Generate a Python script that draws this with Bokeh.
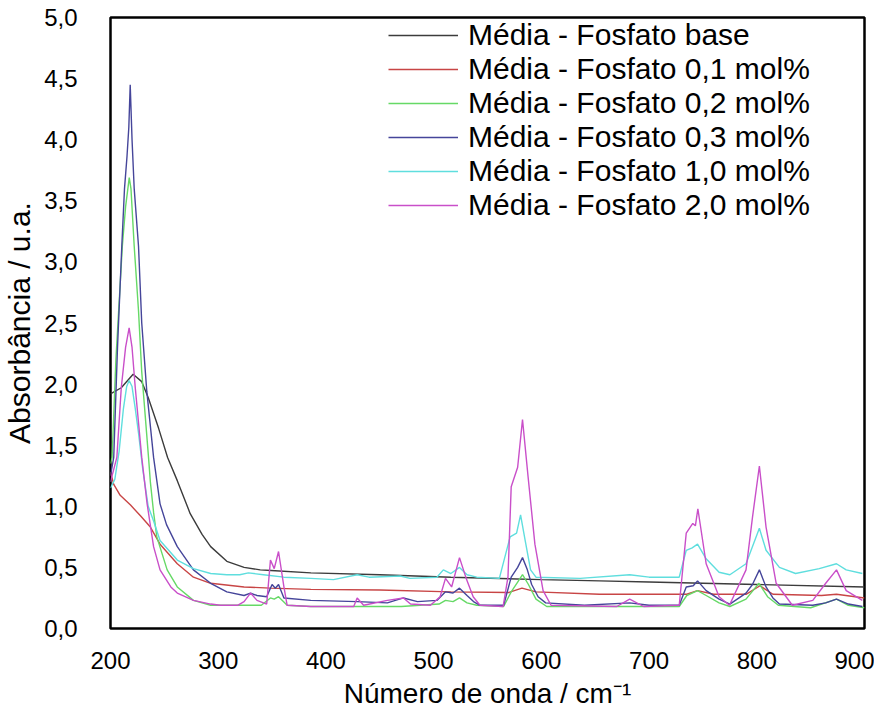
from bokeh.plotting import figure
from bokeh.models import FixedTicker, CustomJSTickFormatter
from bokeh.embed import file_html
from bokeh.resources import INLINE

# ---------------- data ----------------
series_labels = [
    "Média - Fosfato base",
    "Média - Fosfato 0,1 mol%",
    "Média - Fosfato 0,2 mol%",
    "Média - Fosfato 0,3 mol%",
    "Média - Fosfato 1,0 mol%",
    "Média - Fosfato 2,0 mol%",
]

x_base = [200, 210, 221, 229, 235, 244.6, 253, 262, 274, 285, 293, 308, 324, 339, 349, 386, 450, 516, 600, 654, 700, 800, 900]
y_base = [1.92, 1.97, 2.08, 2.02, 1.89, 1.64, 1.40, 1.21, 0.94, 0.77, 0.67, 0.55, 0.50, 0.48, 0.475, 0.455, 0.44, 0.42, 0.40, 0.39, 0.38, 0.36, 0.34]

x_01 = [200, 203, 209, 218.6, 228, 237, 246, 262, 277, 293, 324, 348.5, 386, 450, 516, 570, 582, 595, 654, 735, 745, 760, 790, 803, 815, 860, 874, 900]
y_01 = [1.28, 1.18, 1.09, 1.01, 0.92, 0.83, 0.69, 0.53, 0.42, 0.37, 0.34, 0.33, 0.32, 0.315, 0.30, 0.295, 0.33, 0.30, 0.28, 0.28, 0.31, 0.28, 0.28, 0.35, 0.28, 0.27, 0.28, 0.25]

x_02 = [200, 201.5, 205, 211, 214, 217.4, 219, 222, 226, 229, 235.3, 237, 240, 243, 252.6, 262, 277, 293, 324, 340, 348.5, 352, 356, 364, 386, 429, 470, 505, 511, 518, 524, 531, 540, 565, 572, 578, 582.5, 588, 595, 605, 682, 728, 735, 745, 753, 765, 775, 790, 802, 810, 820, 850, 874, 885, 900]
y_02 = [1.35, 1.40, 2.20, 3.13, 3.45, 3.69, 3.60, 3.13, 2.60, 2.10, 1.40, 1.20, 0.95, 0.75, 0.48, 0.34, 0.23, 0.19, 0.19, 0.19, 0.25, 0.24, 0.26, 0.19, 0.18, 0.18, 0.18, 0.20, 0.23, 0.22, 0.25, 0.21, 0.19, 0.18, 0.30, 0.38, 0.44, 0.36, 0.24, 0.18, 0.18, 0.18, 0.27, 0.31, 0.27, 0.21, 0.18, 0.24, 0.37, 0.26, 0.19, 0.17, 0.24, 0.19, 0.17]

x_03 = [200, 203, 206.5, 210.5, 213, 215.3, 217, 218.3, 220, 222, 226, 229, 233.7, 240, 246, 252, 262, 277, 293, 308, 324, 330, 336, 345, 350, 353, 356, 361, 386, 429, 457, 472, 485, 503, 511, 518, 524, 531, 537, 543, 565, 572, 578, 582.5, 587, 591, 597, 604, 640, 682, 700, 728, 734.5, 741, 745, 753, 765, 775, 790, 796, 802.4, 808.6, 815, 821, 852, 864, 874, 885, 898]
y_03 = [1.25, 1.40, 2.30, 3.13, 3.60, 3.86, 4.10, 4.45, 4.00, 3.60, 3.13, 2.50, 1.94, 1.40, 1.02, 0.85, 0.67, 0.48, 0.37, 0.30, 0.27, 0.29, 0.27, 0.26, 0.36, 0.33, 0.36, 0.25, 0.23, 0.22, 0.21, 0.25, 0.22, 0.23, 0.30, 0.29, 0.33, 0.27, 0.22, 0.19, 0.19, 0.42, 0.50, 0.58, 0.48, 0.36, 0.26, 0.21, 0.19, 0.21, 0.19, 0.19, 0.34, 0.35, 0.39, 0.31, 0.24, 0.20, 0.29, 0.36, 0.48, 0.34, 0.25, 0.20, 0.19, 0.21, 0.24, 0.20, 0.18]

x_10 = [200, 204, 208, 212, 215, 217.3, 220, 223, 226, 230, 235, 240, 246, 262, 277, 293, 308, 320, 328, 342, 361, 386, 407, 429, 440, 469, 478, 503, 509, 516, 524, 531, 540, 561, 571, 577, 580.7, 585, 590, 595, 636, 682, 700, 728, 734.5, 740, 745, 753, 765, 775, 790, 802.4, 808.6, 821, 836, 858, 874, 883, 898]
y_10 = [1.15, 1.22, 1.45, 1.80, 1.98, 2.03, 1.98, 1.80, 1.60, 1.30, 1.00, 0.88, 0.72, 0.56, 0.49, 0.45, 0.44, 0.44, 0.455, 0.44, 0.42, 0.41, 0.40, 0.44, 0.42, 0.43, 0.41, 0.42, 0.48, 0.45, 0.50, 0.44, 0.42, 0.41, 0.75, 0.78, 0.93, 0.72, 0.48, 0.42, 0.41, 0.44, 0.42, 0.42, 0.64, 0.66, 0.69, 0.57, 0.46, 0.44, 0.53, 0.82, 0.64, 0.50, 0.45, 0.49, 0.53, 0.48, 0.45]

x_20 = [200, 205.9, 210, 214, 217.3, 220, 223, 229, 234, 240, 246, 256, 262, 277, 293, 302, 318, 324, 330, 336, 345, 348.5, 352, 356, 361, 364, 386, 425.8, 429, 435, 457, 472, 478.5, 497, 506, 511, 516.7, 524, 530.6, 536.7, 543, 564.5, 569, 572, 578, 582.5, 587.7, 594, 601.6, 609, 670, 682, 695, 728, 734.5, 740.6, 743, 745.3, 753, 765, 774.6, 790, 796, 802.4, 808.6, 818, 833, 852, 864, 874, 883, 898]
y_20 = [1.20, 1.40, 1.97, 2.30, 2.46, 2.30, 1.97, 1.40, 1.02, 0.67, 0.48, 0.34, 0.29, 0.23, 0.20, 0.19, 0.19, 0.22, 0.29, 0.23, 0.20, 0.56, 0.49, 0.63, 0.34, 0.19, 0.18, 0.18, 0.25, 0.19, 0.23, 0.25, 0.20, 0.19, 0.26, 0.41, 0.34, 0.58, 0.40, 0.26, 0.19, 0.18, 0.42, 1.16, 1.32, 1.71, 1.24, 0.69, 0.31, 0.19, 0.18, 0.24, 0.18, 0.19, 0.78, 0.86, 0.84, 0.98, 0.53, 0.26, 0.19, 0.48, 0.91, 1.33, 0.83, 0.37, 0.19, 0.23, 0.37, 0.48, 0.31, 0.23]

x_ticks = [200, 300, 400, 500, 600, 700, 800, 900]
y_ticks = [0.0, 0.5, 1.0, 1.5, 2.0, 2.5, 3.0, 3.5, 4.0, 4.5, 5.0]

series_x = [x_base, x_01, x_02, x_03, x_10, x_20]
series_y = [y_base, y_01, y_02, y_03, y_10, y_20]
colors = ["#3c3c3c", "#c84545", "#66d966", "#45459a", "#5fdede", "#c94fc9"]

FONT = "Liberation Sans"

p = figure(width=874, height=712, x_range=(200, 900), y_range=(0, 5),
           output_backend="svg", toolbar_location=None,
           min_border_left=102, min_border_right=10, min_border_top=17, min_border_bottom=84)

for xs, ys, c, lab in zip(series_x, series_y, colors, series_labels):
    p.line(xs, ys, line_color=c, line_width=1.4, legend_label=lab)

p.xgrid.visible = False
p.ygrid.visible = False
p.outline_line_color = "black"
p.outline_line_width = 2.5
p.background_fill_color = "white"
p.border_fill_color = "white"

for ax in (p.xaxis[0], p.yaxis[0]):
    ax.axis_line_color = None
    ax.major_tick_line_color = None
    ax.minor_tick_line_color = None
    ax.major_label_text_font = FONT
    ax.major_label_text_font_size = "24px"
    ax.major_label_text_color = "black"
    ax.axis_label_text_font = FONT
    ax.axis_label_text_font_style = "normal"
    ax.axis_label_text_color = "black"

p.xaxis.axis_label_text_font_size = "28px"
p.yaxis.axis_label_text_font_size = "30px"
p.xaxis.ticker = FixedTicker(ticks=x_ticks)
p.yaxis.ticker = FixedTicker(ticks=y_ticks)
p.yaxis.formatter = CustomJSTickFormatter(code="return tick.toFixed(1).replace('.', ',');")
p.xaxis.major_label_standoff = 17
p.yaxis.major_label_standoff = 27
p.xaxis.axis_label = "Número de onda / cm⁻¹"
p.yaxis.axis_label = "Absorbância / u.a."
p.xaxis.axis_label_standoff = 6
p.yaxis.axis_label_standoff = 5

leg = p.legend[0]
leg.location = (278, 406)
leg.margin = 0
leg.padding = 0
leg.spacing = 0
leg.border_line_color = None
leg.background_fill_alpha = 0
leg.glyph_width = 70
leg.glyph_height = 32
leg.label_height = 32
leg.label_standoff = 10
leg.label_text_font = FONT
leg.label_text_font_size = "30px"
leg.label_text_color = "black"

open("out.html", "w").write(file_html(p, INLINE))
